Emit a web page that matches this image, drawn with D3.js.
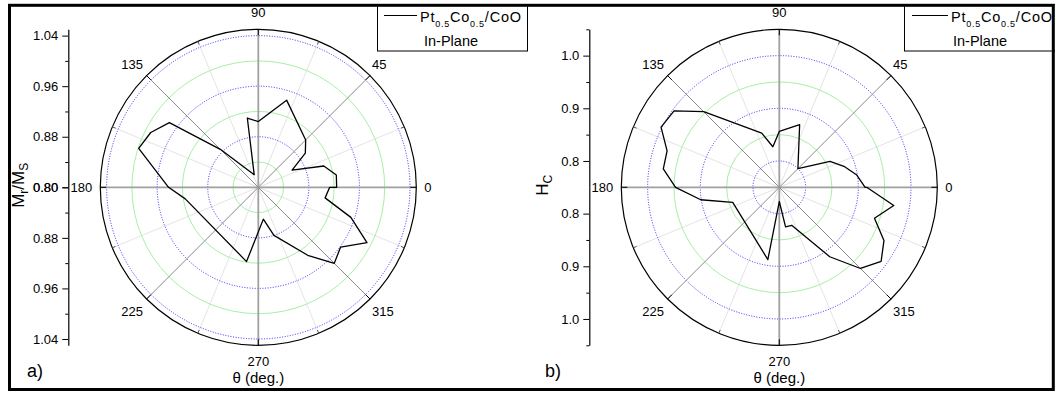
<!DOCTYPE html>
<html><head><meta charset="utf-8">
<script src="https://cdn.jsdelivr.net/npm/d3@7"></script>
<style>body{margin:0;background:#fff}svg{display:block;font-family:"Liberation Sans",Arial,sans-serif}</style>
</head><body><svg id="c" width="1061" height="394"></svg>
<script>
// ---- data (angle in degrees, value) ----
const anglesA = [0,9,18,27,36,45,72,90,99,108,135,144,153,162,180,189,261,279,288,306,315,324,333,342,351,360];
const valuesA = [0.924,0.925,0.909,0.860,0.892,0.906,0.945,0.904,0.911,0.821,0.885,0.974,0.991,0.999,0.942,0.917,0.919,0.851,0.880,0.933,0.970,0.961,0.993,0.954,0.907,0.913];
const anglesB = [0,9,18,27,45,72,90,99,108,135,144,153,162,171,180,189,198,261,270,279,288,306,315,324,333,342,351,360];
const valuesB = [0.913,0.899,0.879,0.858,0.800,0.875,0.856,0.828,0.858,0.953,0.997,1.002,0.974,0.973,0.947,0.901,0.843,0.889,0.777,0.826,0.826,0.913,0.968,0.989,0.973,0.940,0.970,0.916];
const angleTicks = [0,45,90,135,180,225,270,315];
const angleMinor = [22.5,67.5,112.5,157.5,202.5,247.5,292.5,337.5];
const majorA = [0.80,0.88,0.96,1.04], minorA = [0.84,0.92,1.00], domainA = [0.80,1.05];
const majorB = [0.8,0.9,1.0], minorB = [0.85,0.95,1.05], domainB = [0.75,1.05];

const svg = d3.select("#c");
const panels = [
  {cx:258.3, cy:187.3, R:158, dom:domainA, major:majorA, minor:minorA, fmt:".2f", ax:68.3,
   ang:anglesA, val:valuesA, ylab:["M","r","/M","S"], ylabX:24, tag:"a)", tagX:27,
   leg:{x0:377,x1:527,lx0:384,lx1:417,tx:420,tx2:424,tl:101}},
  {cx:779.3, cy:187.3, R:158, dom:domainB, major:majorB, minor:minorB, fmt:".1f", ax:589.3,
   ang:anglesB, val:valuesB, ylab:["H","C"], ylabX:548, tag:"b)", tagX:545,
   leg:{x0:904,x1:1060,lx0:912,lx1:948,tx:951,tx2:953,tl:101}}
];

panels.forEach(p => {
  const g = svg.append("g");
  const r = d3.scaleLinear().domain(p.dom).range([0, p.R]);
  const P = (deg, rad) => [p.cx + rad*Math.cos(deg*Math.PI/180), p.cy - rad*Math.sin(deg*Math.PI/180)];

  angleMinor.forEach(a => {
    const e = P(a, p.R);
    g.append("line").attr("x1",p.cx).attr("y1",p.cy).attr("x2",e[0]).attr("y2",e[1])
      .attr("stroke","#e4e4e4").attr("stroke-width",1);
  });
  p.minor.filter(v=>v<p.dom[1]).forEach(v => g.append("circle").attr("cx",p.cx).attr("cy",p.cy).attr("r",r(v))
      .attr("fill","none").attr("stroke","#a6f0a6").attr("stroke-width",1));
  p.major.filter(v=>v>p.dom[0]).forEach(v => g.append("circle").attr("cx",p.cx).attr("cy",p.cy).attr("r",r(v))
      .attr("fill","none").attr("stroke","#2b2bff").attr("stroke-width",1).attr("stroke-dasharray","1,1.6"));
  angleTicks.forEach(a => {
    const e = P(a, p.R);
    const axisLine = a % 90 === 0;
    g.append("line").attr("x1",p.cx).attr("y1",p.cy).attr("x2",e[0]).attr("y2",e[1])
      .attr("stroke", axisLine ? "#a0a0a0" : "#8a8a8a").attr("stroke-width", axisLine ? 1.8 : 1);
  });
  g.append("circle").attr("cx",p.cx).attr("cy",p.cy).attr("r",p.R).attr("fill","none").attr("stroke","#000").attr("stroke-width",1.2);
  angleTicks.forEach(a => {
    const s = P(a, p.R-6), e = P(a, p.R);
    g.append("line").attr("x1",s[0]).attr("y1",s[1]).attr("x2",e[0]).attr("y2",e[1]).attr("stroke","#000").attr("stroke-width",1);
  });
  angleMinor.forEach(a => {
    const s = P(a, p.R-3.5), e = P(a, p.R);
    g.append("line").attr("x1",s[0]).attr("y1",s[1]).attr("x2",e[0]).attr("y2",e[1]).attr("stroke","#555").attr("stroke-width",1);
  });

  const line = d3.lineRadial().angle(d => Math.PI/2 - d[0]*Math.PI/180).radius(d => r(d[1])).curve(d3.curveLinearClosed);
  g.append("path").datum(p.ang.map((a,i)=>[a,p.val[i]])).attr("transform",`translate(${p.cx},${p.cy})`)
    .attr("d", line).attr("fill","none").attr("stroke","#000").attr("stroke-width",1.3).attr("stroke-linejoin","round");

  angleTicks.forEach(a => {
    const c = Math.cos(a*Math.PI/180), s = Math.sin(a*Math.PI/180);
    let x, y, anchor;
    if (a === 0) { x = p.cx + p.R + 8; y = p.cy + 4.6; anchor = "start"; }
    else if (a === 180) { x = p.cx - p.R - 8; y = p.cy + 4.6; anchor = "end"; }
    else if (a === 90) { x = p.cx; y = p.cy - p.R - 12; anchor = "middle"; }
    else if (a === 270) { x = p.cx; y = p.cy + p.R + 20.5; anchor = "middle"; }
    else {
      const pt = P(a, p.R);
      x = pt[0] + (c > 0 ? 2 : -3.5); anchor = c > 0 ? "start" : "end";
      y = s > 0 ? pt[1] - 7 : pt[1] + 16.5;
    }
    g.append("text").attr("x",x).attr("y",y).attr("text-anchor",anchor).attr("font-size",13).text(a);
  });

  const up = d3.scaleLinear().domain(p.dom).range([p.cy, p.cy - p.R]);
  const dn = d3.scaleLinear().domain(p.dom).range([p.cy, p.cy + p.R]);
  [up, dn].forEach(sc => {
    const ag = g.append("g").attr("transform",`translate(${p.ax},0)`);
    ag.call(d3.axisLeft(sc).tickValues(p.major.filter(v => !(p.fmt===".1f" && v===p.dom[0]))).tickFormat(d3.format(p.fmt)).tickSize(6).tickSizeOuter(0).tickPadding(4));
    ag.selectAll("text").attr("font-size",13).attr("font-family","Liberation Sans, Arial, sans-serif").attr("fill","#000");
    ag.select(".domain").attr("stroke","#000").attr("stroke-width",1.2);
    ag.selectAll(".tick line").attr("stroke","#000");
    const mg = g.append("g").attr("transform",`translate(${p.ax},0)`);
    mg.call(d3.axisLeft(sc).tickValues(p.minor).tickFormat("").tickSize(3).tickSizeOuter(0));
    mg.select(".domain").remove();
    mg.selectAll(".tick line").attr("stroke","#000");
  });

  const yl = g.append("text").attr("transform",`translate(${p.ylabX},${p.cy - 2}) rotate(-90)`)
     .attr("text-anchor","middle").attr("font-size",17);
  p.ylab.forEach((t,i) => {
    if (i % 2 === 0) yl.append("tspan").attr("font-size",17).attr("dy", i===0 ? 0 : -4).text(t);
    else yl.append("tspan").attr("font-size",12).attr("dy",4).text(t);
  });

  g.append("text").attr("x",p.cx).attr("y",383).attr("text-anchor","middle").attr("font-size",15).text("θ (deg.)");
  g.append("text").attr("x",p.tagX).attr("y",377).attr("font-size",18).text(p.tag);

  const L = p.leg;
  g.append("rect").attr("x",L.x0+0.5).attr("y",4.5).attr("width",L.x1-L.x0).attr("height",46.5)
    .attr("fill","#fff").attr("stroke","#000").attr("stroke-width",1);
  g.append("line").attr("x1",L.lx0).attr("x2",L.lx1).attr("y1",15.5).attr("y2",15.5).attr("stroke","#000").attr("stroke-width",1.2);
  const lt = g.append("text").attr("x",L.tx).attr("y",22).attr("font-size",14.5)
     .attr("textLength",L.tl).attr("lengthAdjust","spacing");
  lt.append("tspan").text("Pt");
  lt.append("tspan").attr("font-size",9).attr("dy",4.5).text("0.5");
  lt.append("tspan").attr("dy",-4.5).text("Co");
  lt.append("tspan").attr("font-size",9).attr("dy",4.5).text("0.5");
  lt.append("tspan").attr("dy",-4.5).text("/CoO");
  g.append("text").attr("x",L.tx2).attr("y",46).attr("font-size",14.5).text("In-Plane");
});

svg.append("rect").attr("x",9.5).attr("y",5.3).attr("width",1043.8).attr("height",384.2)
  .attr("fill","none").attr("stroke","#000").attr("stroke-width",3);
svg.append("rect").attr("x",1055).attr("y",0).attr("width",10).attr("height",394).attr("fill","#fff");
</script></body></html>
